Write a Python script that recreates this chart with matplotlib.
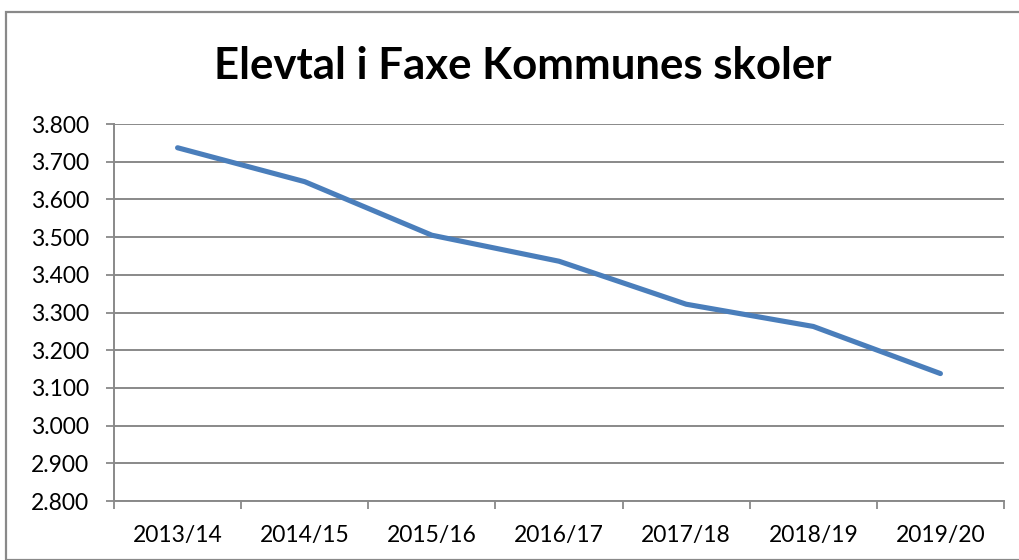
import matplotlib
matplotlib.use("Agg")
import matplotlib.pyplot as plt
from matplotlib.patches import Rectangle
from matplotlib.ticker import FuncFormatter

years = ["2013/14", "2014/15", "2015/16", "2016/17", "2017/18", "2018/19", "2019/20"]
elevtal = [3737, 3647, 3505, 3436, 3322, 3263, 3138]
yticks = [2800, 2900, 3000, 3100, 3200, 3300, 3400, 3500, 3600, 3700, 3800]
title = "Elevtal i Faxe Kommunes skoler"

plt.rcParams['font.family'] = ['Lato', 'DejaVu Sans']

W, H = 1019, 560
fig = plt.figure(figsize=(W / 100, H / 100), dpi=100)

# outer chart border
fig.patches.append(Rectangle((6 / W, 0), 1.2, 1 - 12 / H, transform=fig.transFigure,
                             fill=False, edgecolor="#898989", linewidth=1.6, clip_on=False))

ax = fig.add_axes([114 / W, 1 - 501 / H, (1004 - 114) / W, (501 - 124) / H])
x = list(range(len(years)))
ax.plot(x, elevtal, color="#4A7EBB", linewidth=3.7, solid_capstyle="round", solid_joinstyle="round", zorder=3)

ax.set_xlim(-0.5, len(years) - 0.5)
ax.set_ylim(2800, 3800)
ax.set_yticks(yticks)
ax.yaxis.set_major_formatter(FuncFormatter(lambda v, p: f"{int(v):,}".replace(",", ".")))
ax.set_xticks(x)
ax.set_xticklabels(years)
ax.set_xticks([i - 0.5 for i in range(len(years) + 1)], minor=True)
ax.tick_params(axis="x", which="major", length=0, pad=17, labelsize=16.5)
ax.tick_params(axis="x", which="minor", length=5.5, width=1.3, color="#898989", direction="out")
ax.tick_params(axis="y", length=6, width=1.3, color="#898989", pad=12, labelsize=16.5)

ax.grid(axis="y", color="#898989", linewidth=1.4)
ax.set_axisbelow(True)
for s in ["top", "right"]:
    ax.spines[s].set_visible(False)
for s in ["left", "bottom"]:
    ax.spines[s].set_color("#898989")
    ax.spines[s].set_linewidth(1.4)

fig.text(523 / W, 1 - 66 / H, title, ha="center", va="center", fontsize=31.5, fontweight="bold")

fig.savefig("out.png", dpi=100)
